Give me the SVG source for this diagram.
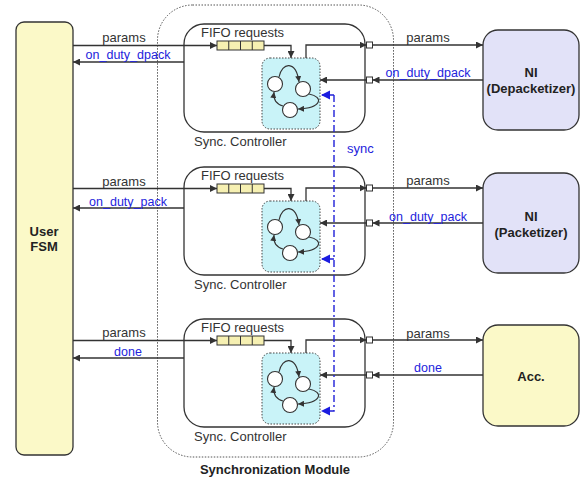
<svg xmlns="http://www.w3.org/2000/svg" width="587" height="478" viewBox="0 0 587 478">
<defs>
<style>
text{font-family:"Liberation Sans",Arial,sans-serif;fill:#333}
.t{font-size:13px}
.b{font-size:13px;font-weight:bold;fill:#222}
.bl{font-size:12.5px;fill:#2323dc}
.c{text-anchor:middle}
.ln{fill:none;stroke:#333;stroke-width:1.3}
.ctrl{fill:#fff;stroke:#333;stroke-width:1.3}
.fifo{fill:#f6f0b2;stroke:#333;stroke-width:1}
.fsm{fill:#c9f3f8;stroke:#444;stroke-width:1;stroke-dasharray:1.5,1.5}
.st{fill:#fff;stroke:#333;stroke-width:1.1}
.sa{fill:none;stroke:#333;stroke-width:1.1}
.port{fill:#fff;stroke:#333;stroke-width:1}
.sync{fill:none;stroke:#2020d8;stroke-width:1.4;stroke-dasharray:7,3,2,3}
</style>
<marker id="a" markerUnits="userSpaceOnUse" markerWidth="7" markerHeight="7" refX="7" refY="3.5" orient="auto"><path d="M0,0 L7,3.5 L0,7 z" fill="#333"/></marker>
<marker id="s" markerUnits="userSpaceOnUse" markerWidth="6" markerHeight="6" refX="6" refY="3" orient="auto"><path d="M0,0 L6,3 L0,6 z" fill="#333"/></marker>
<marker id="sb" markerUnits="userSpaceOnUse" markerWidth="10" markerHeight="10" refX="9" refY="4.5" orient="auto"><path d="M0,0 L9,4.5 L0,9 z" fill="#1c1ce0"/></marker>
<g id="ctrl">
<rect class="ctrl" x="184" y="24" width="181" height="108" rx="20"/>
<text class="t" x="201" y="37">FIFO requests</text>
<rect class="fifo" x="217" y="41" width="47" height="9"/>
<path class="ln" d="M228.75,41 V50 M240.5,41 V50 M252.25,41 V50" style="stroke-width:1"/>
<path class="ln" d="M264,45.5 H291 V58" marker-end="url(#a)"/>
<rect class="fsm" x="262" y="58" width="58" height="71" rx="8"/>
<circle class="st" cx="275" cy="84" r="7.5"/>
<circle class="st" cx="303" cy="89" r="7.5"/>
<circle class="st" cx="290" cy="110" r="7.5"/>
<path class="sa" d="M279,77 C282,62 296,60 299,82" marker-end="url(#s)"/>
<path class="sa" d="M309,94 C324,97 322,108 298,109" marker-end="url(#s)"/>
<path class="sa" d="M283,106 C276,104 273,100 274,92" marker-end="url(#s)"/>
<path class="ln" d="M306,58 V45 H366.5" marker-end="url(#a)"/>
<rect class="port" x="366.5" y="42" width="6" height="6"/>
<rect class="port" x="366.5" y="77" width="6" height="6"/>
<path class="ln" d="M366.5,80 H320" marker-end="url(#a)"/>
<text class="t" x="194" y="146">Sync. Controller</text>
</g>
</defs>

<g id="sync-module">
<rect x="157.5" y="5" width="236" height="452" rx="35" fill="none" stroke="#555" stroke-width="1" stroke-dasharray="1.5,1.5"/>
<text class="b c" x="275" y="474">Synchronization Module</text>
</g>

<g id="user-fsm">
<rect x="16" y="22" width="57" height="433" rx="8" fill="#fbf9c8" stroke="#333" stroke-width="1.3"/>
<text class="b c" x="44" y="236">User</text>
<text class="b c" x="44" y="251">FSM</text>
</g>

<g id="sync-controller-1"><use href="#ctrl"/></g>
<g id="sync-controller-2"><use href="#ctrl" transform="translate(0,143)"/></g>
<g id="sync-controller-3"><use href="#ctrl" transform="translate(0,295)"/></g>

<g id="ni-depacketizer">
<rect x="483" y="30" width="96" height="100" rx="15" fill="#e2e2f8" stroke="#333" stroke-width="1.3"/>
<text class="b c" x="531" y="77">NI</text>
<text class="b c" x="531" y="93">(Depacketizer)</text>
</g>
<g id="ni-packetizer">
<rect x="483" y="173" width="96" height="100" rx="15" fill="#e2e2f8" stroke="#333" stroke-width="1.3"/>
<text class="b c" x="531" y="221">NI</text>
<text class="b c" x="531" y="237">(Packetizer)</text>
</g>
<g id="acc">
<rect x="483" y="325" width="96" height="101" rx="15" fill="#fbf9c8" stroke="#333" stroke-width="1.3"/>
<text class="b c" x="531" y="381">Acc.</text>
</g>

<g id="connectors">
<path class="ln" d="M73,45.5 H217" marker-end="url(#a)"/>
<path class="ln" d="M184,62 H73" marker-end="url(#a)"/>
<path class="ln" d="M372.5,45 H483" marker-end="url(#a)"/>
<path class="ln" d="M483,80 H372.5" marker-end="url(#a)"/>

<path class="ln" d="M73,188.5 H217" marker-end="url(#a)"/>
<path class="ln" d="M184,208 H73" marker-end="url(#a)"/>
<path class="ln" d="M372.5,188 H483" marker-end="url(#a)"/>
<path class="ln" d="M483,223 H372.5" marker-end="url(#a)"/>

<path class="ln" d="M73,340.5 H217" marker-end="url(#a)"/>
<path class="ln" d="M184,358 H73" marker-end="url(#a)"/>
<path class="ln" d="M372.5,340 H483" marker-end="url(#a)"/>
<path class="ln" d="M483,375 H372.5" marker-end="url(#a)"/>

<path class="sync" d="M334,95 V411 H321" marker-end="url(#sb)"/>
<path class="sync" d="M334,95 H321" marker-end="url(#sb)"/>
<path class="sync" d="M334,259 H321" marker-end="url(#sb)"/>

<text class="t c" x="124" y="42">params</text>
<text class="bl c" x="128" y="59">on_duty_dpack</text>
<text class="t c" x="428" y="42">params</text>
<text class="bl c" x="428" y="77">on_duty_dpack</text>

<text class="t c" x="124" y="186">params</text>
<text class="bl c" x="128" y="206">on_duty_pack</text>
<text class="t c" x="428" y="185">params</text>
<text class="bl c" x="428" y="221">on_duty_pack</text>

<text class="t c" x="124" y="337">params</text>
<text class="bl c" x="128" y="356">done</text>
<text class="t c" x="428" y="338">params</text>
<text class="bl c" x="428" y="372">done</text>

<text class="bl" x="347" y="153" style="font-size:13px">sync</text>
</g>
</svg>
